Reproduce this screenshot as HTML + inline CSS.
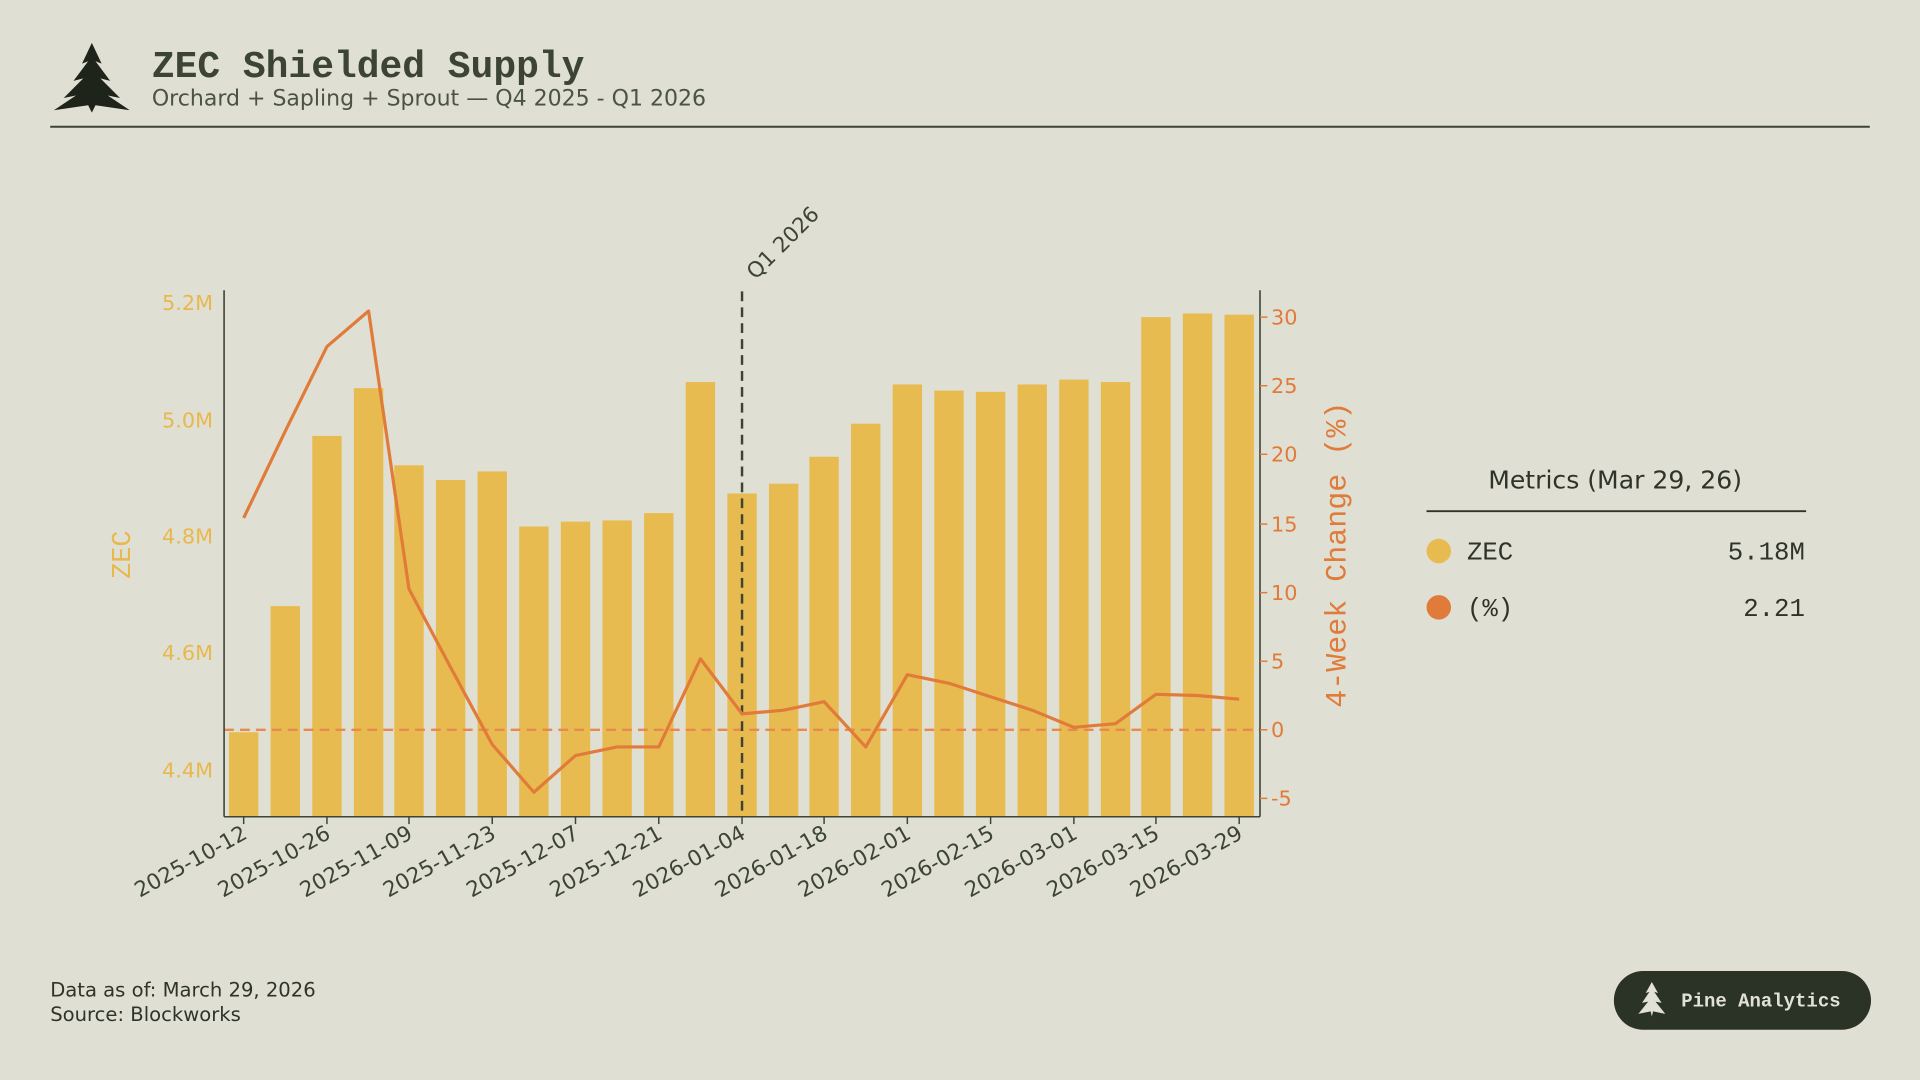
<!DOCTYPE html>
<html><head><meta charset="utf-8"><style>
html,body{margin:0;padding:0;background:#e2e1d5;}
svg{display:block}
.sans{font-family:"DejaVu Sans","Liberation Sans",sans-serif}
.mono{font-family:"Liberation Mono","DejaVu Sans Mono",monospace}
</style></head><body>
<svg width="1920" height="1080" viewBox="0 0 1568 882" xmlns="http://www.w3.org/2000/svg">
<rect width="1568" height="882" fill="#e0dfd3"/>
<!-- header -->
<g fill="#1e2419">
<path d="M75 35 L83 52 L78 50 L90 66 L82 64 L98 80 L88 78 L106 90 L78 86 L75 92 L72 86 L44 90 L62 78 L52 80 L68 64 L60 66 L72 50 L67 52 Z"/>
</g>
<text x="124" y="63" class="mono" font-size="31" font-weight="bold" fill="#3b4435">ZEC Shielded Supply</text>
<text x="124" y="86" class="sans" font-size="18" fill="#4a5344">Orchard + Sapling + Sprout — Q4 2025 - Q1 2026</text>
<line x1="41" y1="103.5" x2="1527" y2="103.5" stroke="#3b4435" stroke-width="1.6"/>

<!-- bars -->
<g fill="#e8bb50">
<rect x="187" y="598" width="24" height="69"/>
<rect x="221" y="495" width="24" height="172"/>
<rect x="255" y="356" width="24" height="311"/>
<rect x="289" y="317" width="24" height="350"/>
<rect x="322" y="380" width="24" height="287"/>
<rect x="356" y="392" width="24" height="275"/>
<rect x="390" y="385" width="24" height="282"/>
<rect x="424" y="430" width="24" height="237"/>
<rect x="458" y="426" width="24" height="241"/>
<rect x="492" y="425" width="24" height="242"/>
<rect x="526" y="419" width="24" height="248"/>
<rect x="560" y="312" width="24" height="355"/>
<rect x="594" y="403" width="24" height="264"/>
<rect x="628" y="395" width="24" height="272"/>
<rect x="661" y="373" width="24" height="294"/>
<rect x="695" y="346" width="24" height="321"/>
<rect x="729" y="314" width="24" height="353"/>
<rect x="763" y="319" width="24" height="348"/>
<rect x="797" y="320" width="24" height="347"/>
<rect x="831" y="314" width="24" height="353"/>
<rect x="865" y="310" width="24" height="357"/>
<rect x="899" y="312" width="24" height="355"/>
<rect x="932" y="259" width="24" height="408"/>
<rect x="966" y="256" width="24" height="411"/>
<rect x="1000" y="257" width="24" height="410"/>
</g>
<line x1="183" y1="596" x2="1029" y2="596" stroke="#e88a50" stroke-width="2" stroke-dasharray="8,5"/>
<line x1="606" y1="238" x2="606" y2="667" stroke="#3b4435" stroke-width="2" stroke-dasharray="8,5"/>
<text transform="translate(617,229) rotate(-45)" class="sans" font-size="17.5" fill="#3b4435">Q1 2026</text>
<polyline fill="none" stroke="#e07b39" stroke-width="2.6" stroke-linejoin="round"
points="199,423 233,352 267,283 301,254 334,481 368,545 402,608 436,647 470,617 504,610 538,610 572,538 606,583 640,580 673,573 707,610 741,551 775,558 809,569 843,580 877,594 911,591 944,567 978,568 1012,571"/>

<!-- axes -->
<g stroke="#3b4435" stroke-width="1.3">
<line x1="183" y1="237" x2="183" y2="667"/>
<line x1="1029" y1="237" x2="1029" y2="667"/>
<line x1="183" y1="667" x2="1029" y2="667"/>
</g>
<g class="sans" font-size="17" fill="#e8b84d" text-anchor="end">
<text x="174" y="253">5.2M</text><text x="174" y="349">5.0M</text><text x="174" y="444">4.8M</text><text x="174" y="539">4.6M</text><text x="174" y="635">4.4M</text>
</g>
<text transform="translate(106,453) rotate(-90)" class="mono" font-size="22" fill="#e8b84d" text-anchor="middle">ZEC</text>
<g stroke="#e07b39" stroke-width="1.2">
<line x1="1029" y1="259" x2="1035" y2="259"/><line x1="1029" y1="315" x2="1035" y2="315"/><line x1="1029" y1="371" x2="1035" y2="371"/><line x1="1029" y1="428" x2="1035" y2="428"/><line x1="1029" y1="484" x2="1035" y2="484"/><line x1="1029" y1="540" x2="1035" y2="540"/><line x1="1029" y1="596" x2="1035" y2="596"/><line x1="1029" y1="652" x2="1035" y2="652"/>
</g>
<g class="sans" font-size="17" fill="#e07b39">
<text x="1038" y="265">30</text><text x="1038" y="321">25</text><text x="1038" y="377">20</text><text x="1038" y="434">15</text><text x="1038" y="490">10</text><text x="1038" y="546">5</text><text x="1038" y="602">0</text><text x="1038" y="658">-5</text>
</g>
<text transform="translate(1099,453) rotate(-90)" class="mono" font-size="24.5" fill="#e07b39" text-anchor="middle">4-Week Change (%)</text>
<g stroke="#3b4435" stroke-width="1.2">
<line x1="199" y1="667" x2="199" y2="673"/><line x1="267" y1="667" x2="267" y2="673"/><line x1="334" y1="667" x2="334" y2="673"/><line x1="402" y1="667" x2="402" y2="673"/><line x1="470" y1="667" x2="470" y2="673"/><line x1="538" y1="667" x2="538" y2="673"/><line x1="606" y1="667" x2="606" y2="673"/><line x1="673" y1="667" x2="673" y2="673"/><line x1="741" y1="667" x2="741" y2="673"/><line x1="809" y1="667" x2="809" y2="673"/><line x1="877" y1="667" x2="877" y2="673"/><line x1="944" y1="667" x2="944" y2="673"/><line x1="1012" y1="667" x2="1012" y2="673"/>
</g>
<g class="sans" font-size="17.5" fill="#3b4435" text-anchor="end">
<text transform="translate(203,684) rotate(-29)">2025-10-12</text>
<text transform="translate(271,684) rotate(-29)">2025-10-26</text>
<text transform="translate(338,684) rotate(-29)">2025-11-09</text>
<text transform="translate(406,684) rotate(-29)">2025-11-23</text>
<text transform="translate(474,684) rotate(-29)">2025-12-07</text>
<text transform="translate(542,684) rotate(-29)">2025-12-21</text>
<text transform="translate(610,684) rotate(-29)">2026-01-04</text>
<text transform="translate(677,684) rotate(-29)">2026-01-18</text>
<text transform="translate(745,684) rotate(-29)">2026-02-01</text>
<text transform="translate(813,684) rotate(-29)">2026-02-15</text>
<text transform="translate(881,684) rotate(-29)">2026-03-01</text>
<text transform="translate(948,684) rotate(-29)">2026-03-15</text>
<text transform="translate(1016,684) rotate(-29)">2026-03-29</text>
</g>

<!-- metrics -->
<text x="1319" y="399" class="sans" font-size="20.5" fill="#2e3429" text-anchor="middle">Metrics (Mar 29, 26)</text>
<line x1="1165" y1="417.5" x2="1475" y2="417.5" stroke="#2e3429" stroke-width="1.5"/>
<circle cx="1175" cy="450" r="10" fill="#e8bb50"/>
<text x="1198" y="457" class="mono" font-size="21" fill="#2e3429">ZEC</text>
<text x="1474" y="457" class="mono" font-size="21" fill="#2e3429" text-anchor="end">5.18M</text>
<circle cx="1175" cy="496" r="10" fill="#e07b39"/>
<text x="1198" y="503" class="mono" font-size="21" fill="#2e3429">(%)</text>
<text x="1474" y="503" class="mono" font-size="21" fill="#2e3429" text-anchor="end">2.21</text>

<!-- footer -->
<text x="41" y="814" class="sans" font-size="16" fill="#2e3429">Data as of: March 29, 2026</text>
<text x="41" y="834" class="sans" font-size="16" fill="#2e3429">Source: Blockworks</text>
<rect x="1318" y="793" width="210" height="48" rx="24" fill="#2b3326"/>
<path d="M1349 802 L1354 811 L1351 810 L1357 819 L1352 818 L1360 828 L1350 826 L1349 830 L1348 826 L1338 828 L1346 818 L1341 819 L1347 810 L1344 811 Z" fill="#e2e1d5"/>
<text x="1373" y="822" class="mono" font-size="15.5" font-weight="bold" fill="#e2e1d5">Pine Analytics</text>
</svg>
</body></html>
